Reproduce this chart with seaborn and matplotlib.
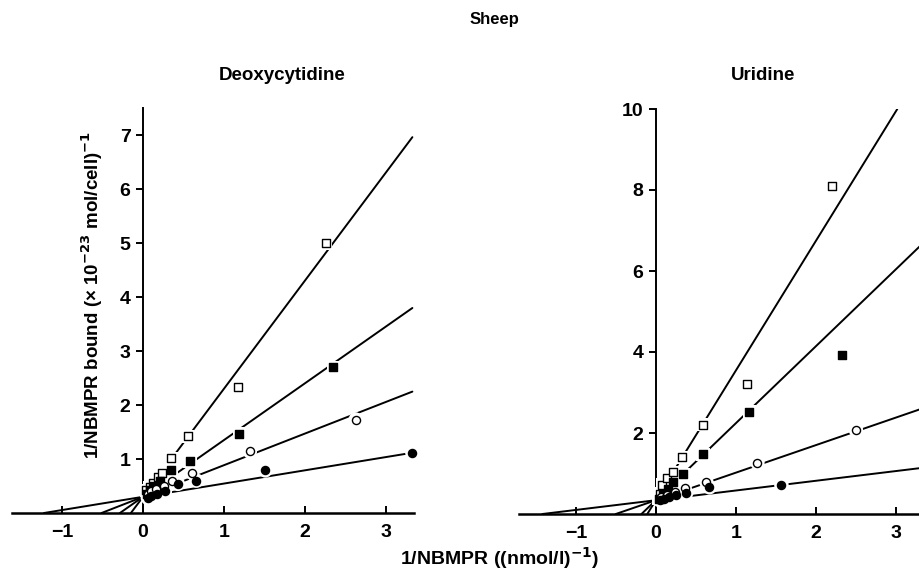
import numpy as np
import matplotlib
matplotlib.use("Agg")
import matplotlib.pyplot as plt
import seaborn as sns

# Deoxycytidine panel
deoxy_open_sq_x = [0.04, 0.08, 0.12, 0.18, 0.24, 0.35, 0.55, 1.17, 2.26]
deoxy_open_sq_y = [0.42, 0.48, 0.55, 0.66, 0.74, 1.01, 1.42, 2.33, 5.0]
deoxy_fill_sq_x = [0.05, 0.09, 0.14, 0.21, 0.35, 0.58, 1.19, 2.35]
deoxy_fill_sq_y = [0.36, 0.42, 0.50, 0.60, 0.79, 0.96, 1.47, 2.70]
deoxy_open_ci_x = [0.06, 0.10, 0.16, 0.26, 0.36, 0.60, 1.32, 2.63]
deoxy_open_ci_y = [0.36, 0.40, 0.44, 0.50, 0.60, 0.75, 1.14, 1.73]
deoxy_fill_ci_x = [0.06, 0.10, 0.17, 0.27, 0.43, 0.66, 1.51, 3.33]
deoxy_fill_ci_y = [0.28, 0.32, 0.36, 0.40, 0.54, 0.60, 0.79, 1.12]
deoxy_intercept = 0.30
deoxy_slopes = [2.0, 1.05, 0.585, 0.245]

# Uridine panel
uri_open_sq_x = [0.05, 0.08, 0.14, 0.21, 0.33, 0.59, 1.14, 2.20]
uri_open_sq_y = [0.50, 0.72, 0.88, 1.03, 1.40, 2.20, 3.22, 8.10]
uri_fill_sq_x = [0.04, 0.09, 0.15, 0.22, 0.34, 0.59, 1.17, 2.33]
uri_fill_sq_y = [0.38, 0.50, 0.62, 0.78, 0.98, 1.47, 2.53, 3.93]
uri_open_ci_x = [0.06, 0.14, 0.24, 0.36, 0.63, 1.27, 2.50]
uri_open_ci_y = [0.42, 0.48, 0.55, 0.64, 0.80, 1.27, 2.08]
uri_fill_ci_x = [0.05, 0.10, 0.16, 0.25, 0.38, 0.67, 1.57]
uri_fill_ci_y = [0.34, 0.38, 0.42, 0.46, 0.52, 0.66, 0.72]
uri_intercept = 0.34
uri_slopes = [3.2, 1.9, 0.68, 0.24]

sns.set_style("ticks")
plt.rcParams['font.family'] = ['Liberation Sans', 'DejaVu Sans']
plt.rcParams['text.color'] = 'black'
plt.rcParams['axes.edgecolor'] = 'black'
plt.rcParams['xtick.color'] = 'black'
plt.rcParams['ytick.color'] = 'black'

fig = plt.figure(figsize=(9.19, 5.71), dpi=100)
ax1 = fig.add_axes([12/919, 58/571, 402/919, 405/571])
ax2 = fig.add_axes([519/919, 57/571, 400/919, 405/571])


def draw_panel(ax, series, intercept, slopes, xlim, ylim, yticks, xend):
    ax.set_xlim(*xlim)
    ax.set_ylim(*ylim)
    # fitted lines, from x-axis crossing to the right end
    for m in slopes:
        x0 = -intercept / m
        x1 = min(xend, (ylim[1] - intercept) / m)
        sns.lineplot(x=[x0, x1], y=[intercept + m * x0, intercept + m * x1],
                     color='black', lw=1.4, ax=ax, zorder=2)
    for xs, ys, marker, face, size in series:
        # white halo gives the broken-line look around points
        sns.scatterplot(x=xs, y=ys, marker=marker, s=size * 3.2, color='white',
                        edgecolor='none', ax=ax, zorder=3, clip_on=False)
        sns.scatterplot(x=xs, y=ys, marker=marker, s=size, facecolor=face,
                        edgecolor='black', linewidth=1.0, ax=ax, zorder=4,
                        clip_on=False)
    ax.spines['left'].set_position(('data', 0))
    ax.spines['left'].set_linewidth(1.4)
    ax.spines['bottom'].set_linewidth(1.8)
    ax.spines['right'].set_visible(False)
    ax.spines['top'].set_visible(False)
    ax.set_yticks(yticks)
    ax.set_yticklabels([str(t) for t in yticks])
    ax.set_xticks([-1, 0, 1, 2, 3])
    ax.set_xticklabels(['\u22121', '0', '1', '2', '3'])
    ax.tick_params(axis='y', direction='out', length=5, width=1.4, pad=4,
                   labelsize=14)
    ax.tick_params(axis='x', direction='in', length=5, width=1.4, pad=8,
                   labelsize=14)
    for lab in ax.get_xticklabels() + ax.get_yticklabels():
        lab.set_fontweight('bold')
    ax.set_xlabel('')
    ax.set_ylabel('')


deoxy_series = [
    (deoxy_open_sq_x, deoxy_open_sq_y, 's', 'white', 28),
    (deoxy_fill_sq_x, deoxy_fill_sq_y, 's', 'black', 28),
    (deoxy_open_ci_x, deoxy_open_ci_y, 'o', 'white', 34),
    (deoxy_fill_ci_x, deoxy_fill_ci_y, 'o', 'black', 34),
]
uri_series = [
    (uri_open_sq_x, uri_open_sq_y, 's', 'white', 28),
    (uri_fill_sq_x, uri_fill_sq_y, 's', 'black', 28),
    (uri_open_ci_x, uri_open_ci_y, 'o', 'white', 34),
    (uri_fill_ci_x, uri_fill_ci_y, 'o', 'black', 34),
]

draw_panel(ax1, deoxy_series, deoxy_intercept, deoxy_slopes,
           (-1.62, 3.35), (0, 7.5), [1, 2, 3, 4, 5, 6, 7], 3.33)
draw_panel(ax2, uri_series, uri_intercept, uri_slopes,
           (-1.71, 3.29), (0, 10), [2, 4, 6, 8, 10], 3.4)
ax2.spines['left'].set_bounds(0, 10)

fig.text(494/919, 0.965, 'Sheep', ha='center', va='center', fontsize=12,
         fontweight='bold')
fig.text(282/919, 0.867, 'Deoxycytidine', ha='center', va='center',
         fontsize=13.5, fontweight='bold')
fig.text(763/919, 0.867, 'Uridine', ha='center', va='center', fontsize=13.5,
         fontweight='bold')
fig.text(500/919, 0.022, '1/NBMPR ((nmol/l)$^{\\mathbf{-1}}$)', ha='center',
         va='center', fontsize=14, fontweight='bold')
fig.text(92/919, 0.483,
         '1/NBMPR bound (\u00d7 10$^{\\mathbf{-23}}$ mol/cell)$^{\\mathbf{-1}}$',
         ha='center', va='center', rotation=90, fontsize=13.5, fontweight='bold')

fig.savefig('out.png', dpi=100)
